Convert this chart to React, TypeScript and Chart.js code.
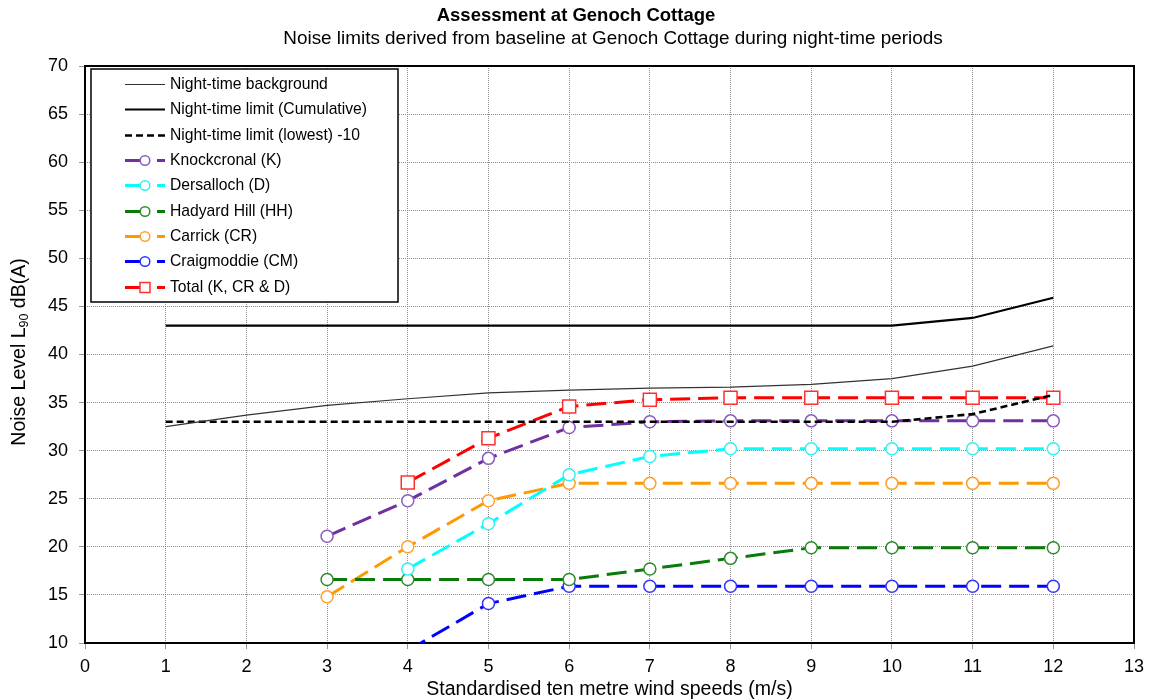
import React, { useEffect, useRef } from "react";
import { Chart, registerables } from "chart.js";

Chart.register(...registerables);

const windSpeeds = [1, 2, 3, 4, 5, 6, 7, 8, 9, 10, 11, 12];
const nightBackground = [32.5, 33.7, 34.7, 35.4, 36.0, 36.3, 36.5, 36.6, 36.9, 37.5, 38.8, 40.9];
const nightLimitCumulative = [43, 43, 43, 43, 43, 43, 43, 43, 43, 43, 43.8, 45.9];
const nightLimitLowest = [33, 33, 33, 33, 33, 33, 33, 33, 33, 33, 33.8, 35.8];
const knockcronal = [null, null, 21.1, 24.8, 29.2, 32.4, 33.0, 33.1, 33.1, 33.1, 33.1, 33.1];
const dersalloch = [null, null, null, 17.7, 22.4, 27.5, 29.4, 30.2, 30.2, 30.2, 30.2, 30.2];
const hadyardHill = [null, null, 16.6, 16.6, 16.6, 16.6, 17.7, 18.8, 19.9, 19.9, 19.9, 19.9];
const carrick = [null, null, 14.8, 20.0, 24.8, 26.6, 26.6, 26.6, 26.6, 26.6, 26.6, 26.6];
const craigmoddie = [null, null, null, 9.2, 14.1, 15.9, 15.9, 15.9, 15.9, 15.9, 15.9, 15.9];
const total = [null, null, null, 26.7, 31.3, 34.6, 35.3, 35.5, 35.5, 35.5, 35.5, 35.5];

const xMin = 0;
const xMax = 13;
const yMin = 10;
const yMax = 70;
const yStep = 5;

const titleText = "Assessment at Genoch Cottage";
const subtitleText = "Noise limits derived from baseline at Genoch Cottage during night-time periods";
const xTitleText = "Standardised ten metre wind speeds (m/s)";

const FONT = "'Liberation Sans', Arial, sans-serif";

function pts(values: (number | null)[]) {
  const out: { x: number; y: number }[] = [];
  values.forEach((v, i) => {
    if (v !== null) out.push({ x: windSpeeds[i], y: v });
  });
  return out;
}

type LegendKind = "thin" | "solid" | "short" | "marker";

const legendKinds: LegendKind[] = ["thin", "solid", "short", "marker", "marker", "marker", "marker", "marker", "marker"];

const framePlugin = {
  id: "frame",
  beforeDatasetsDraw(chart: any) {
    const { ctx, chartArea: a } = chart;
    ctx.save();
    ctx.strokeStyle = "#000";
    ctx.lineWidth = 2;
    ctx.strokeRect(a.left, a.top, a.right - a.left, a.bottom - a.top);
    ctx.restore();
  },
};

const textPlugin = {
  id: "texts",
  afterDraw(chart: any) {
    const { ctx } = chart;
    ctx.save();
    ctx.fillStyle = "#000";
    ctx.textAlign = "center";
    ctx.textBaseline = "middle";
    ctx.font = `bold 18.5px ${FONT}`;
    ctx.fillText(titleText, 576, 16);
    ctx.font = `18.9px ${FONT}`;
    ctx.fillText(subtitleText, 613, 39);

    // y axis title with subscript
    const cy = 352;
    ctx.translate(20, cy);
    ctx.rotate(-Math.PI / 2);
    ctx.textAlign = "left";
    const p1 = "Noise Level L";
    const sub = "90";
    const p2 = " dB(A)";
    const big = `19.5px ${FONT}`;
    const small = `12.5px ${FONT}`;
    ctx.font = big;
    const w1 = ctx.measureText(p1).width;
    const w3 = ctx.measureText(p2).width;
    ctx.font = small;
    const w2 = ctx.measureText(sub).width;
    const totalW = w1 + w2 + w3;
    let x = -totalW / 2;
    ctx.font = big;
    ctx.fillText(p1, x, 0);
    x += w1;
    ctx.font = small;
    ctx.fillText(sub, x, 5);
    x += w2;
    ctx.font = big;
    ctx.fillText(p2, x, 0);
    ctx.restore();
  },
};

const legendPlugin = {
  id: "customLegend",
  afterDatasetsDraw(chart: any) {
    const { ctx } = chart;
    const bx = 91, by = 69, bw = 307, bh = 233;
    ctx.save();
    ctx.fillStyle = "#fff";
    ctx.fillRect(bx, by, bw, bh);
    ctx.strokeStyle = "#000";
    ctx.lineWidth = 1.5;
    ctx.strokeRect(bx, by, bw, bh);
    const rowY0 = 84;
    const rowH = 25.35;
    ctx.font = `15.7px ${FONT}`;
    ctx.textBaseline = "middle";
    ctx.textAlign = "left";
    chart.data.datasets.forEach((ds: any, i: number) => {
      const y = Math.round(rowY0 + i * rowH) + 0.5;
      const kind = legendKinds[i];
      ctx.strokeStyle = ds.borderColor;
      ctx.lineWidth = ds.borderWidth;
      ctx.setLineDash([]);
      if (kind === "thin" || kind === "solid") {
        ctx.beginPath();
        ctx.moveTo(125, y);
        ctx.lineTo(165, y);
        ctx.stroke();
      } else if (kind === "short") {
        ctx.setLineDash([7, 4]);
        ctx.beginPath();
        ctx.moveTo(125, y);
        ctx.lineTo(165, y);
        ctx.stroke();
      } else {
        ctx.beginPath();
        ctx.moveTo(125, y);
        ctx.lineTo(145, y);
        ctx.moveTo(157, y);
        ctx.lineTo(165, y);
        ctx.stroke();
        ctx.setLineDash([]);
        ctx.fillStyle = "#fff";
        ctx.strokeStyle = ds.pointBorderColor;
        ctx.lineWidth = 1.5;
        ctx.beginPath();
        if (ds.pointStyle === "rect") {
          ctx.rect(145 - 5, y - 5, 10, 10);
        } else {
          ctx.arc(145, y, 4.8, 0, Math.PI * 2);
        }
        ctx.fill();
        ctx.stroke();
      }
      ctx.setLineDash([]);
      ctx.fillStyle = "#000";
      ctx.fillText(ds.label, 170, y);
    });
    ctx.restore();
  },
};

function seriesDataset(label: string, values: (number | null)[], color: string, markerColor: string, style: string = "circle") {
  return {
    label,
    data: pts(values),
    borderColor: color,
    backgroundColor: color,
    borderWidth: 3,
    borderDash: [20, 8],
    pointStyle: style,
    pointRadius: style === "rect" ? 9.2 : 6,
    pointBackgroundColor: "#fff",
    pointBorderColor: markerColor,
    pointBorderWidth: 1.5,
    tension: 0,
  };
}

export default function App() {
  const ref = useRef<HTMLCanvasElement | null>(null);

  useEffect(() => {
    if (!ref.current) return;
    const chart = new Chart(ref.current, {
      type: "line",
      data: {
        datasets: [
          {
            label: "Night-time background",
            data: pts(nightBackground),
            borderColor: "#333",
            borderWidth: 1.2,
            pointRadius: 0,
          },
          {
            label: "Night-time limit (Cumulative)",
            data: pts(nightLimitCumulative),
            borderColor: "#000",
            borderWidth: 2.2,
            pointRadius: 0,
          },
          {
            label: "Night-time limit (lowest) -10",
            data: pts(nightLimitLowest),
            borderColor: "#000",
            borderWidth: 2.6,
            borderDash: [7, 4],
            pointRadius: 0,
          },
          seriesDataset("Knockcronal (K)", knockcronal, "#7030A0", "#8A5CC0"),
          seriesDataset("Dersalloch (D)", dersalloch, "#00FFFF", "#33F0F0"),
          seriesDataset("Hadyard Hill (HH)", hadyardHill, "#0A7A0A", "#2E8B2E"),
          seriesDataset("Carrick (CR)", carrick, "#FF9900", "#FFA030"),
          seriesDataset("Craigmoddie (CM)", craigmoddie, "#0000FF", "#3333FF"),
          seriesDataset("Total (K, CR & D)", total, "#FF0000", "#FF3030", "rect"),
        ] as any,
      },
      options: {
        animation: false,
        responsive: false,
        maintainAspectRatio: false,
        layout: { padding: { left: 0, right: 15, top: 66, bottom: 0 } },
        plugins: {
          legend: { display: false },
          title: { display: false },
          tooltip: { enabled: false },
        },
        scales: {
          x: {
            type: "linear",
            min: xMin,
            max: xMax,
            ticks: {
              stepSize: 1,
              color: "#000",
              font: { family: FONT, size: 18 },
              padding: 7,
            },
            grid: {
              color: "#8c8c8c",
              lineWidth: 1,
              tickColor: "#999",
              tickLength: 6,
              tickBorderDash: [],
            },
            border: { display: false, dash: [1, 1] },
            title: {
              display: true,
              text: xTitleText,
              color: "#000",
              font: { family: FONT, size: 19.5, lineHeight: 1.0 },
              padding: { top: 0, bottom: 0 },
            },
            afterFit(scale: any) {
              scale.height = 56;
              scale.paddingLeft = 0;
              scale.paddingRight = 0;
            },
          },
          y: {
            type: "linear",
            min: yMin,
            max: yMax,
            ticks: {
              stepSize: yStep,
              color: "#000",
              font: { family: FONT, size: 18 },
              padding: 11,
            },
            grid: {
              color: "#8c8c8c",
              lineWidth: 1,
              tickColor: "#999",
              tickLength: 6,
              tickBorderDash: [],
            },
            border: { display: false, dash: [1, 1] },
            afterFit(scale: any) {
              scale.width = 85;
              scale.paddingTop = 0;
              scale.paddingBottom = 0;
            },
          },
        },
      } as any,
      plugins: [framePlugin, legendPlugin, textPlugin],
    });
    return () => chart.destroy();
  }, []);

  return (
    <div style={{ position: "fixed", left: 0, top: 0, width: 1149, height: 699, background: "#fff" }}>
      <canvas ref={ref} width={1149} height={699} style={{ display: "block", width: 1149, height: 699 }} />
    </div>
  );
}
